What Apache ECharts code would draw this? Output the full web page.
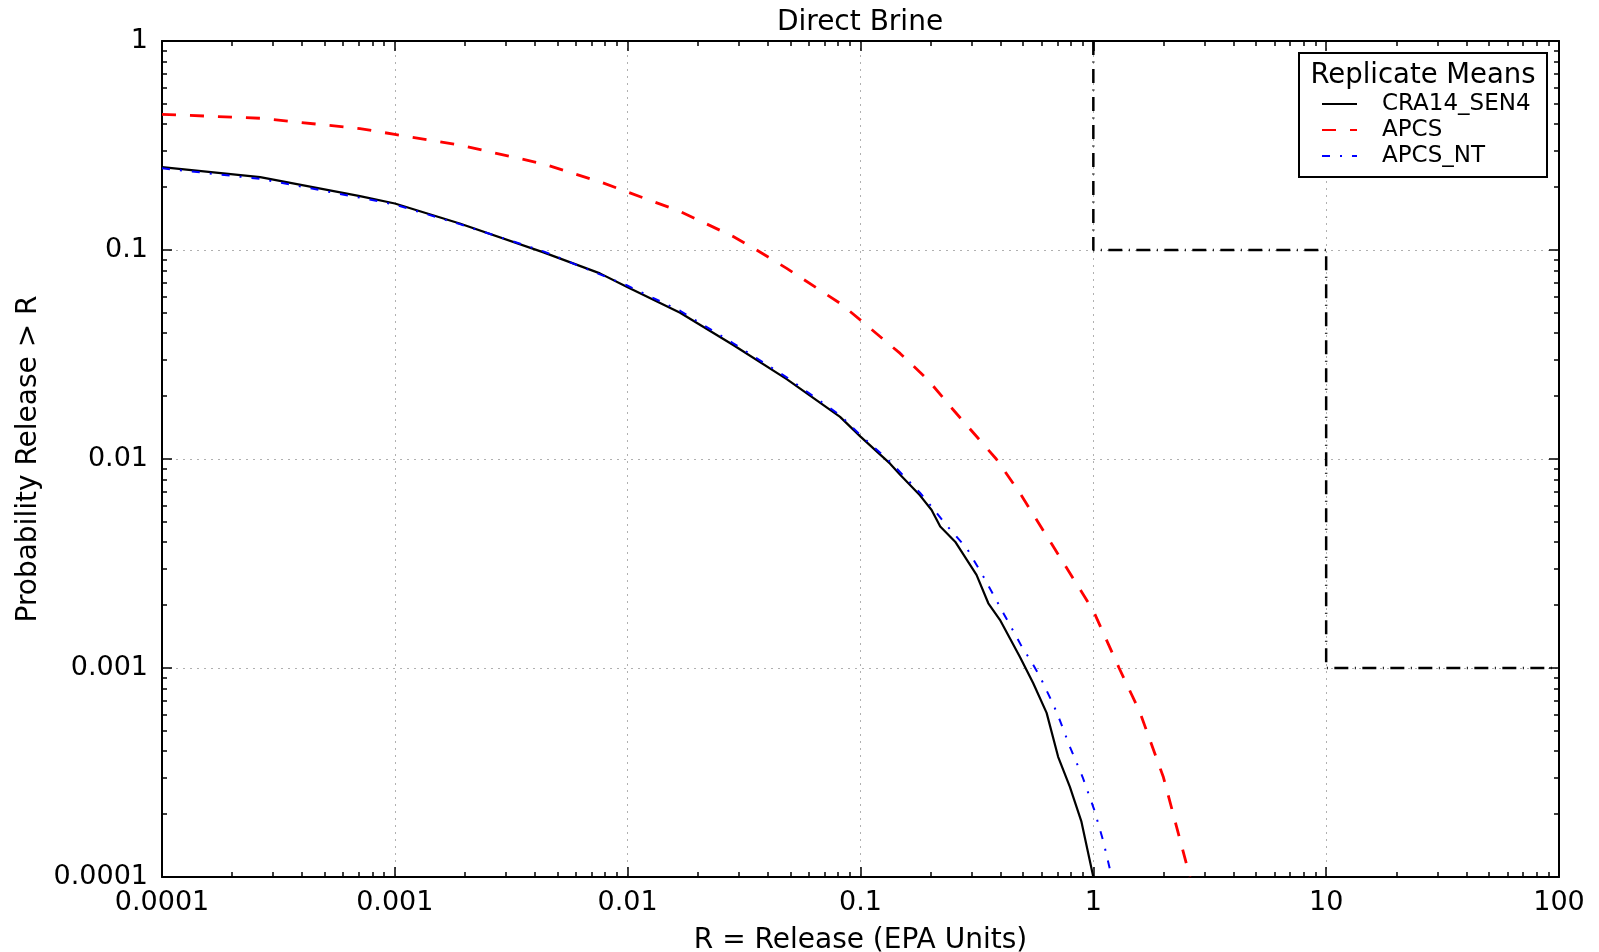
<!DOCTYPE html>
<html>
<head>
<meta charset="utf-8">
<title>Direct Brine</title>
<script src="https://cdn.jsdelivr.net/npm/echarts@6/dist/echarts.min.js"></script>
<style>
  html, body { margin: 0; padding: 0; background: #ffffff; }
  #chart { width: 1599px; height: 952px; }
</style>
</head>
<body>
<div id="chart"></div>
<script>
// Complementary cumulative release curves (replicate means), log-log.
const cra14Release = [1e-4, 2.64e-4, 7.08e-4, 1e-3, 1.9e-3, 4.35e-3, 7.6e-3, 0.0099, 0.0168, 0.0284, 0.0482, 0.0817, 0.1, 0.134, 0.148, 0.18, 0.202, 0.22, 0.255, 0.315, 0.354, 0.397, 0.484, 0.552, 0.63, 0.706, 0.793, 0.889, 1.0];
const cra14Prob    = [0.249, 0.223, 0.181, 0.167, 0.134, 0.0974, 0.0773, 0.0667, 0.0501, 0.0351, 0.0241, 0.0159, 0.0128, 0.0095, 0.0084, 0.0067, 0.0057, 0.00475, 0.00402, 0.00279, 0.00204, 0.0017, 0.00113, 0.000845, 0.00061, 0.000376, 0.00027, 0.000184, 0.0001];

const apcsRelease = [1e-4, 2.64e-4, 7.08e-4, 1e-3, 1.9e-3, 4.35e-3, 7.6e-3, 0.0099, 0.0168, 0.0284, 0.0358, 0.0482, 0.0817, 0.1, 0.148, 0.195, 0.249, 0.383, 0.484, 0.673, 1.0, 1.29, 1.58, 2.0, 2.6];
const apcsProb    = [0.446, 0.427, 0.381, 0.3575, 0.318, 0.258, 0.212, 0.19, 0.153, 0.116, 0.1, 0.0817, 0.0556, 0.0462, 0.032, 0.0239, 0.0173, 0.01, 0.00686, 0.00381, 0.00188, 0.001, 0.00062, 0.0003, 0.0001];

const apcsNtRelease = [1e-4, 2.64e-4, 7.08e-4, 1e-3, 1.9e-3, 4.35e-3, 0.0099, 0.0168, 0.0284, 0.0482, 0.0817, 0.1, 0.134, 0.18, 0.205, 0.231, 0.286, 0.337, 0.411, 0.492, 0.545, 0.59, 0.63, 0.673, 0.719, 0.793, 0.9, 1.01, 1.104, 1.19];
const apcsNtProb    = [0.246, 0.219, 0.178, 0.165, 0.133, 0.0985, 0.0678, 0.0512, 0.0358, 0.0246, 0.0162, 0.013, 0.0097, 0.0069, 0.0058, 0.0049, 0.00374, 0.00274, 0.00183, 0.00127, 0.00106, 0.00091, 0.00078, 0.00067, 0.00056, 0.00042, 0.0003, 0.000209, 0.000148, 0.000104];

// EPA release limits (step line)
const limitRelease = [1, 1, 10, 10, 100];
const limitProb    = [1, 0.1, 0.1, 0.001, 0.001];

const legendNames = ['CRA14_SEN4', 'APCS', 'APCS_NT'];

const xTickValues = [1e-4, 1e-3, 0.01, 0.1, 1, 10, 100];
const xTickLabels = ['0.0001', '0.001', '0.01', '0.1', '1', '10', '100'];
const yTickValues = [1e-4, 1e-3, 0.01, 0.1, 1];
const yTickLabels = ['0.0001', '0.001', '0.01', '0.1', '1'];

const FONT = 'DejaVu Sans';

function pairs(xs, ys) { return xs.map((x, i) => [x, ys[i]]); }

// 2..9 multiples of every decade between the first and last major tick
function minorValues(majors) {
  const out = [];
  for (let i = 0; i < majors.length - 1; i++) {
    for (let m = 2; m <= 9; m++) out.push(+(m * majors[i]).toPrecision(3));
  }
  return out;
}

function tickFormatter(values, labels) {
  return v => {
    const i = values.findIndex(t => Math.abs(t - v) <= t * 1e-6);
    return i >= 0 ? labels[i] : '';
  };
}

const xMinor = minorValues(xTickValues);
const yMinor = minorValues(yTickValues);

const tickLine = { color: '#000', width: 1.5 };
const gridLine = { color: '#b0b0b0', width: 1, type: [2, 5] };

function xAxisDef(position, major, main) {
  return {
    type: 'log', logBase: 10, min: 1e-4, max: 100, position: position, gridIndex: 0,
    name: main ? 'R = Release (EPA Units)' : '',
    nameLocation: 'middle', nameGap: 50,
    nameTextStyle: { fontFamily: FONT, fontSize: 28, color: '#000' },
    axisLine: { show: major, onZero: false, lineStyle: { color: '#000', width: 2 } },
    axisTick: { show: true, inside: true, length: major ? 10 : 5, lineStyle: tickLine,
                customValues: major ? xTickValues : xMinor },
    axisLabel: { show: main, customValues: xTickValues, formatter: tickFormatter(xTickValues, xTickLabels),
                 fontFamily: FONT, fontSize: 27, color: '#000', margin: 12 },
    splitLine: { show: main, lineStyle: gridLine },
    minorTick: { show: false }, minorSplitLine: { show: false }
  };
}

function yAxisDef(position, major, main) {
  return {
    type: 'log', logBase: 10, min: 1e-4, max: 1, position: position, gridIndex: 0,
    name: main ? 'Probability Release > R' : '',
    nameLocation: 'middle', nameGap: 119,
    nameTextStyle: { fontFamily: FONT, fontSize: 28, color: '#000' },
    axisLine: { show: major, onZero: false, lineStyle: { color: '#000', width: 2 } },
    axisTick: { show: true, inside: true, length: major ? 10 : 5, lineStyle: tickLine,
                customValues: major ? yTickValues : yMinor },
    axisLabel: { show: main, customValues: yTickValues, formatter: tickFormatter(yTickValues, yTickLabels),
                 fontFamily: FONT, fontSize: 27, color: '#000', margin: 14, padding: [4, 0, 0, 0] },
    splitLine: { show: main, lineStyle: gridLine },
    minorTick: { show: false }, minorSplitLine: { show: false }
  };
}

const chart = echarts.init(document.getElementById('chart'), null, { renderer: 'canvas' });

chart.setOption({
  animation: false,
  backgroundColor: '#ffffff',
  title: {
    text: 'Direct Brine', left: 860, top: 9, textAlign: 'center', padding: 0,
    textStyle: { fontFamily: FONT, fontSize: 28, fontWeight: 'normal', color: '#000' }
  },
  grid: { left: 162, top: 41, width: 1397, height: 836, containLabel: false, outerBoundsMode: 'none' },
  xAxis: [
    xAxisDef('bottom', true, true),
    xAxisDef('bottom', false, false),
    xAxisDef('top', true, false),
    xAxisDef('top', false, false)
  ],
  yAxis: [
    yAxisDef('left', true, true),
    yAxisDef('left', false, false),
    yAxisDef('right', true, false),
    yAxisDef('right', false, false)
  ],
  legend: {
    data: legendNames, orient: 'vertical', left: 1321, top: 91,
    itemWidth: 35, itemHeight: 14, itemGap: 0, padding: 0, selectedMode: false, z: 60,
    itemStyle: { opacity: 0 },
    textStyle: { fontFamily: FONT, fontSize: 23, color: '#000', lineHeight: 26, padding: [0, 0, 0, 20] }
  },
  graphic: [
    { type: 'rect', z: 50, shape: { x: 1299, y: 53, width: 248, height: 124 },
      style: { fill: '#ffffff', stroke: '#000000', lineWidth: 2 } },
    { type: 'text', z: 51, x: 1423, y: 76,
      style: { text: 'Replicate Means', fill: '#000', fontFamily: FONT, fontSize: 27.5,
               textAlign: 'center', textVerticalAlign: 'middle' } }
  ],
  series: [
    { name: 'CRA14_SEN4', type: 'line', xAxisIndex: 0, yAxisIndex: 0, symbol: 'none',
      data: pairs(cra14Release, cra14Prob), itemStyle: { color: '#000000' },
      lineStyle: { color: '#000000', width: 2.2 } },
    { name: 'APCS', type: 'line', xAxisIndex: 0, yAxisIndex: 0, symbol: 'none',
      data: pairs(apcsRelease, apcsProb), itemStyle: { color: '#ff0000' },
      lineStyle: { color: '#ff0000', width: 2.8, type: [14, 14] } },
    { name: 'APCS_NT', type: 'line', xAxisIndex: 0, yAxisIndex: 0, symbol: 'none',
      data: pairs(apcsNtRelease, apcsNtProb), itemStyle: { color: '#0000ff' },
      lineStyle: { color: '#0000ff', width: 2, type: [8, 10, 2, 10] } },
    { name: 'EPA Limit', type: 'line', xAxisIndex: 0, yAxisIndex: 0, symbol: 'none',
      data: pairs(limitRelease, limitProb), itemStyle: { color: '#000000' },
      lineStyle: { color: '#000000', width: 2.5, type: [14, 6.5, 1, 6.5] } }
  ]
});
</script>
</body>
</html>
